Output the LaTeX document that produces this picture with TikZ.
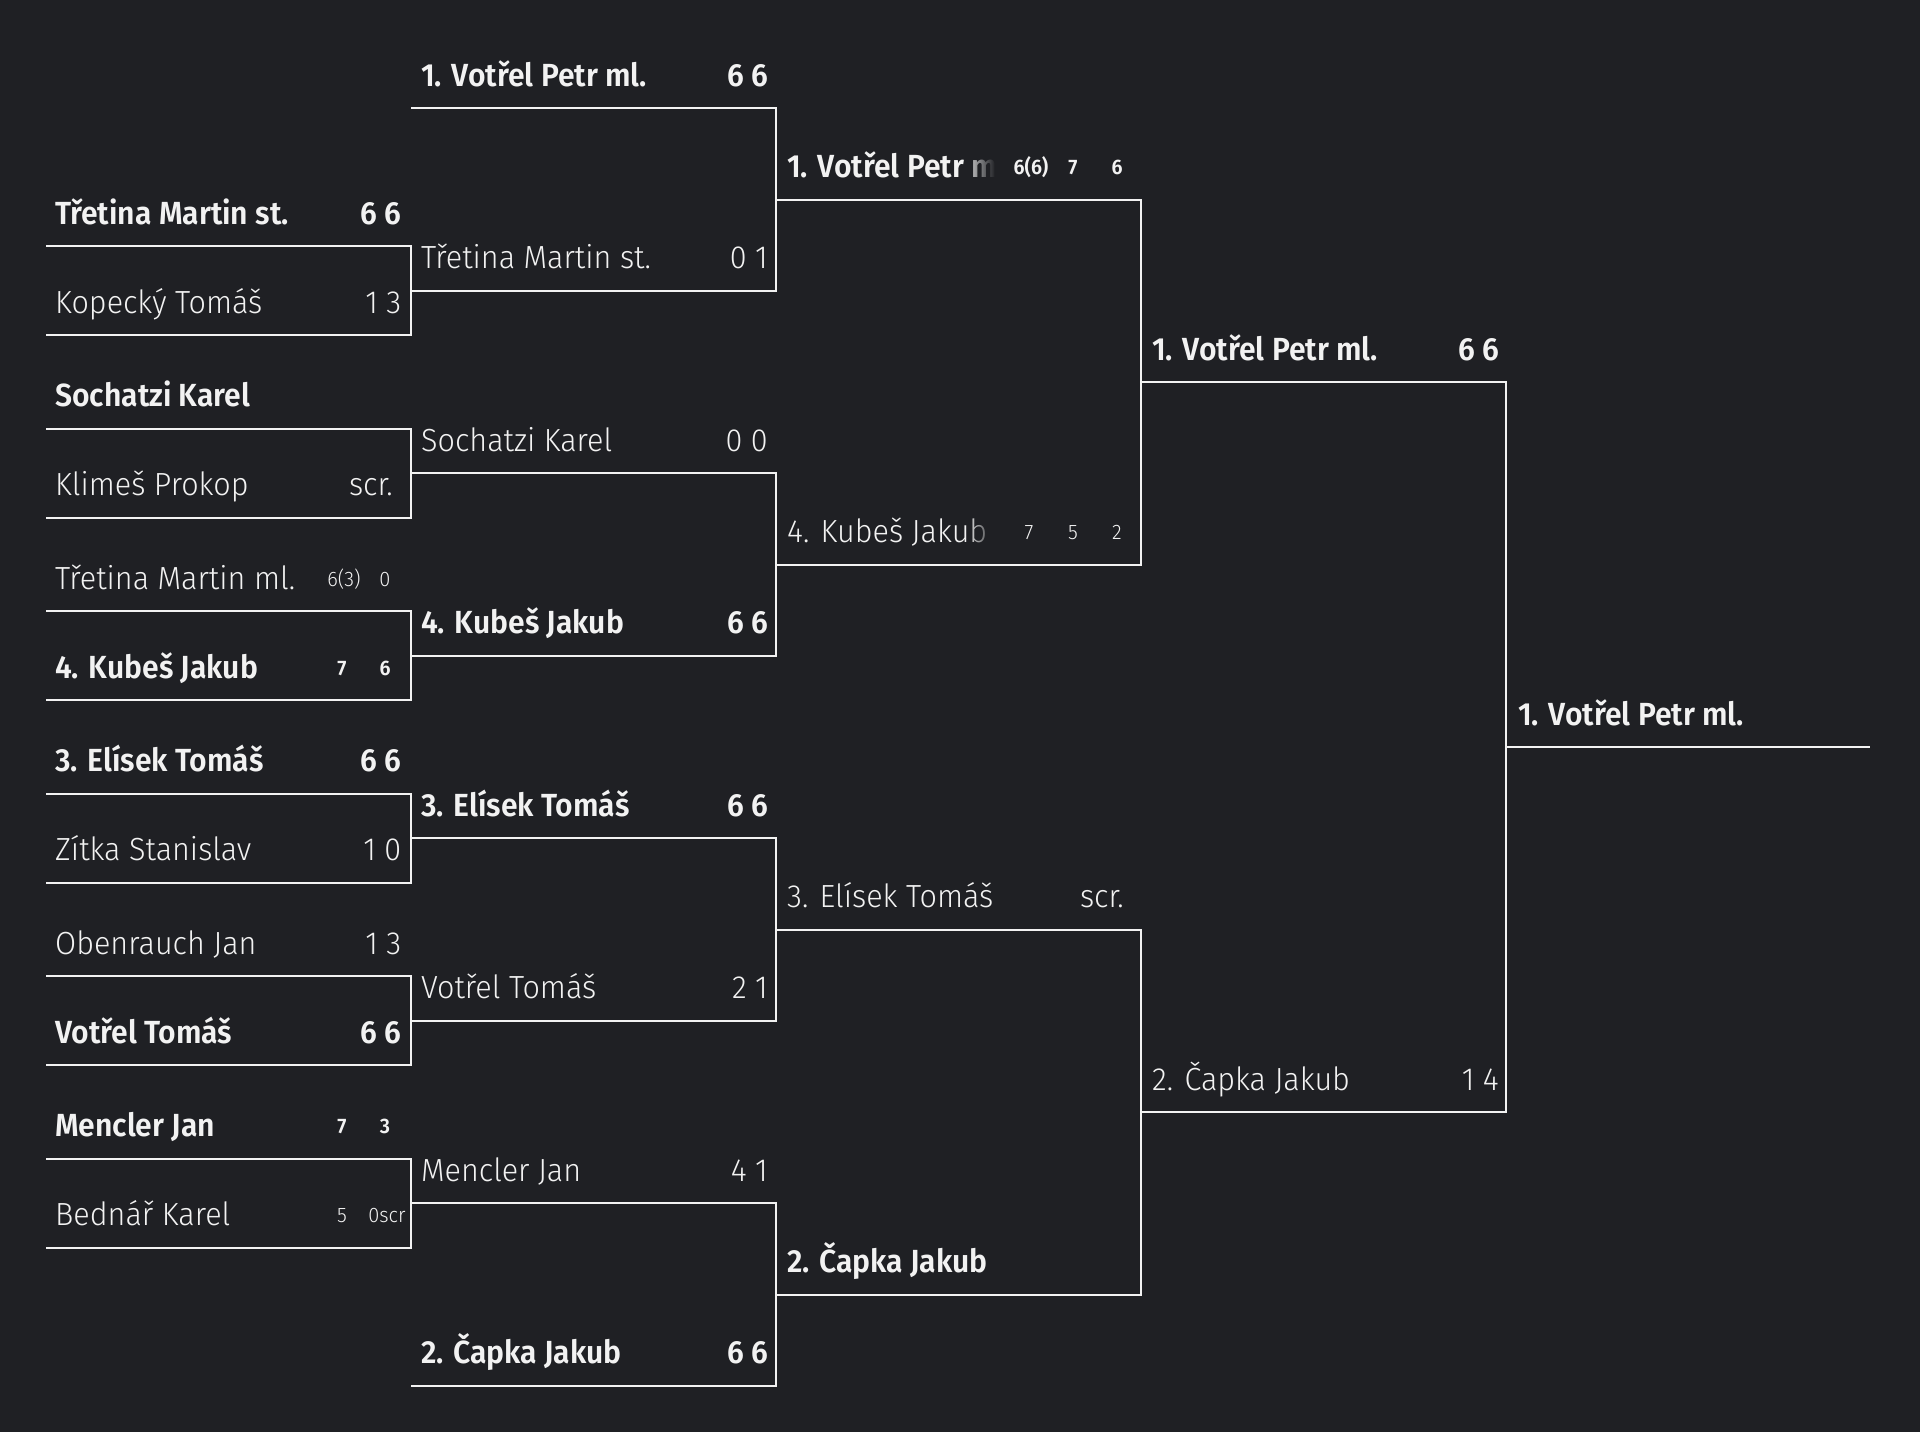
\documentclass[tikz,border=0pt]{standalone}
\usepackage{fontspec}
\setmainfont{Fira Sans}[UprightFont={* Light}, BoldFont={* SemiBold},
  UprightFeatures={FakeStretch=0.955}, BoldFeatures={FakeStretch=0.94}]
\usetikzlibrary{fadings}
\definecolor{bg}{RGB}{31,32,36}
\definecolor{fg}{RGB}{242,242,242}
\tikzfading[name=fadeout, left color=transparent!100, right color=transparent!0]
\tikzset{
  ln/.style={draw=fg, line width=2pt, line join=miter},
  pname/.style={anchor=base west, inner sep=0pt, text=fg, font=\fontsize{32}{34}\selectfont},
  wname/.style={pname, font=\fontsize{32}{34}\selectfont\bfseries},
  pscore/.style={anchor=base east, inner sep=0pt, text=fg, font=\fontsize{32}{34}\selectfont},
  wscore/.style={pscore, font=\fontsize{32}{34}\selectfont\bfseries},
  sset/.style={anchor=base, inner sep=0pt, text=fg, font=\fontsize{21}{22}\selectfont},
  wset/.style={sset, font=\fontsize{21}{22}\selectfont\bfseries},
}
\begin{document}
\begin{tikzpicture}[x=1pt,y=-1pt]
\path[use as bounding box, fill=bg] (0,0) rectangle (1920,1432);
% ---------- coordinates ----------
% round 1 (x 46 -> 411)
\foreach \n/\y in {b1/246.2,b2/335.4,c1/428.7,c2/517.9,d1/611.2,d2/700.4,e1/793.7,e2/882.9,f1/976.2,f2/1065.4,g1/1158.7,g2/1247.9}{
  \coordinate (a-\n-l) at (46,\y); \coordinate (a-\n-r) at (411,\y);}
% round 2 (x 411 -> 776)
\foreach \n/\y in {1/108.3,2/290.8,3/473.3,4/655.8,5/838.3,6/1020.8,7/1203.3,8/1385.8}{
  \coordinate (b-\n-l) at (411,\y); \coordinate (b-\n-r) at (776,\y);}
% round 3 (x 776 -> 1141)
\foreach \n/\y in {1/199.6,2/564.6,3/929.6,4/1294.6}{
  \coordinate (c-\n-l) at (776,\y); \coordinate (c-\n-r) at (1141,\y);}
% round 4 (x 1141 -> 1506)
\foreach \n/\y in {1/382.1,2/1112.1}{
  \coordinate (d-\n-l) at (1141,\y); \coordinate (d-\n-r) at (1506,\y);}
\coordinate (w-l) at (1506,747.1); \coordinate (w-r) at (1870,747.1);
% ---------- bracket lines ----------
\foreach \p in {b,c,d,e,f,g}{
  \draw[ln] (a-\p1-l) -- (a-\p1-r) -- (a-\p2-r) -- (a-\p2-l);}
\draw[ln] (b-1-l) -- (b-1-r) -- (b-2-r) -- (b-2-l);
\draw[ln] (b-3-l) -- (b-3-r) -- (b-4-r) -- (b-4-l);
\draw[ln] (b-5-l) -- (b-5-r) -- (b-6-r) -- (b-6-l);
\draw[ln] (b-7-l) -- (b-7-r) -- (b-8-r) -- (b-8-l);
\draw[ln] (c-1-l) -- (c-1-r) -- (c-2-r) -- (c-2-l);
\draw[ln] (c-3-l) -- (c-3-r) -- (c-4-r) -- (c-4-l);
\draw[ln] (d-1-l) -- (d-1-r) -- (d-2-r) -- (d-2-l);
\draw[ln] (w-l) -- (w-r);
% ---------- round 1 texts ----------
\node[wname] (t-b1) at (55,224.2) {Třetina Martin st.};
\node[wscore] (s-b1) at (401.5,224.2) {6 6};
\node[pname] (t-b2) at (55,313.4) {Kopecký Tomáš};
\node[pscore] (s-b2) at (401.5,313.4) {1 3};
\node[wname] (t-c1) at (55,406.7) {Sochatzi Karel};
\node[pname] (t-c2) at (55,495.9) {Klimeš Prokop};
\node[pscore] (s-c2) at (393,495.9) {scr.};
\node[pname] (t-d1) at (55,589.2) {Třetina Martin ml.};
\node[sset] (s-d1a) at (344,586.2) {6(3)};
\node[sset] (s-d1b) at (385,586.2) {0};
\node[wname] (t-d2) at (55,678.4) {4. Kubeš Jakub};
\node[wset] (s-d2a) at (342,675.4) {7};
\node[wset] (s-d2b) at (385,675.4) {6};
\node[wname] (t-e1) at (55,771.7) {3. Elísek Tomáš};
\node[wscore] (s-e1) at (401.5,771.7) {6 6};
\node[pname] (t-e2) at (55,860.9) {Zítka Stanislav};
\node[pscore] (s-e2) at (401.5,860.9) {1 0};
\node[pname] (t-f1) at (55,954.2) {Obenrauch Jan};
\node[pscore] (s-f1) at (401.5,954.2) {1 3};
\node[wname] (t-f2) at (55,1043.4) {Votřel Tomáš};
\node[wscore] (s-f2) at (401.5,1043.4) {6 6};
\node[wname] (t-g1) at (55,1136.7) {Mencler Jan};
\node[wset] (s-g1a) at (342,1133.7) {7};
\node[wset] (s-g1b) at (385,1133.7) {3};
\node[pname] (t-g2) at (55,1225.9) {Bednář Karel};
\node[sset] (s-g2a) at (342,1222.9) {5};
\node[sset] (s-g2b) at (387,1222.9) {0scr};
% ---------- round 2 texts ----------
\node[wname] (u-1) at (421,86.3) {1. Votřel Petr ml.};
\node[wscore] (v-1) at (768,86.3) {6 6};
\node[pname] (u-2) at (421,268.8) {Třetina Martin st.};
\node[pscore] (v-2) at (768,268.8) {0 1};
\node[pname] (u-3) at (421,451.3) {Sochatzi Karel};
\node[pscore] (v-3) at (768,451.3) {0 0};
\node[wname] (u-4) at (421,633.8) {4. Kubeš Jakub};
\node[wscore] (v-4) at (768,633.8) {6 6};
\node[wname] (u-5) at (421,816.3) {3. Elísek Tomáš};
\node[wscore] (v-5) at (768,816.3) {6 6};
\node[pname] (u-6) at (421,998.8) {Votřel Tomáš};
\node[pscore] (v-6) at (768,998.8) {2 1};
\node[pname] (u-7) at (421,1181.3) {Mencler Jan};
\node[pscore] (v-7) at (768,1181.3) {4 1};
\node[wname] (u-8) at (421,1363.8) {2. Čapka Jakub};
\node[wscore] (v-8) at (768,1363.8) {6 6};
% ---------- round 3 texts ----------
\begin{scope}
  \clip (780,140) rectangle (994,215);
  \node[wname] (x-1) at (787,177.6) {1. Votřel Petr ml.};
\end{scope}
\fill[bg, path fading=fadeout] (962,140) rectangle (995,195);
\node[wset] (y-1a) at (1031,174.6) {6(6)};
\node[wset] (y-1b) at (1073,174.6) {7};
\node[wset] (y-1c) at (1117,174.6) {6};
\begin{scope}
  \clip (780,505) rectangle (994,560);
  \node[pname] (x-2) at (787,542.6) {4. Kubeš Jakub};
\end{scope}
\fill[bg, path fading=fadeout] (966,505) rectangle (995,555);
\node[sset] (y-2a) at (1029,539.6) {7};
\node[sset] (y-2b) at (1073,539.6) {5};
\node[sset] (y-2c) at (1117,539.6) {2};
\node[pname] (x-3) at (787,907.6) {3. Elísek Tomáš};
\node[pscore] (y-3) at (1124,907.6) {scr.};
\node[wname] (x-4) at (787,1272.6) {2. Čapka Jakub};
% ---------- round 4 texts ----------
\node[wname] (z-1) at (1152,360.1) {1. Votřel Petr ml.};
\node[wscore] (zs-1) at (1499,360.1) {6 6};
\node[pname] (z-2) at (1152,1090.1) {2. Čapka Jakub};
\node[pscore] (zs-2) at (1499,1090.1) {1 4};
% ---------- winner ----------
\node[wname] (win) at (1518,725.1) {1. Votřel Petr ml.};
\end{tikzpicture}
\end{document}
